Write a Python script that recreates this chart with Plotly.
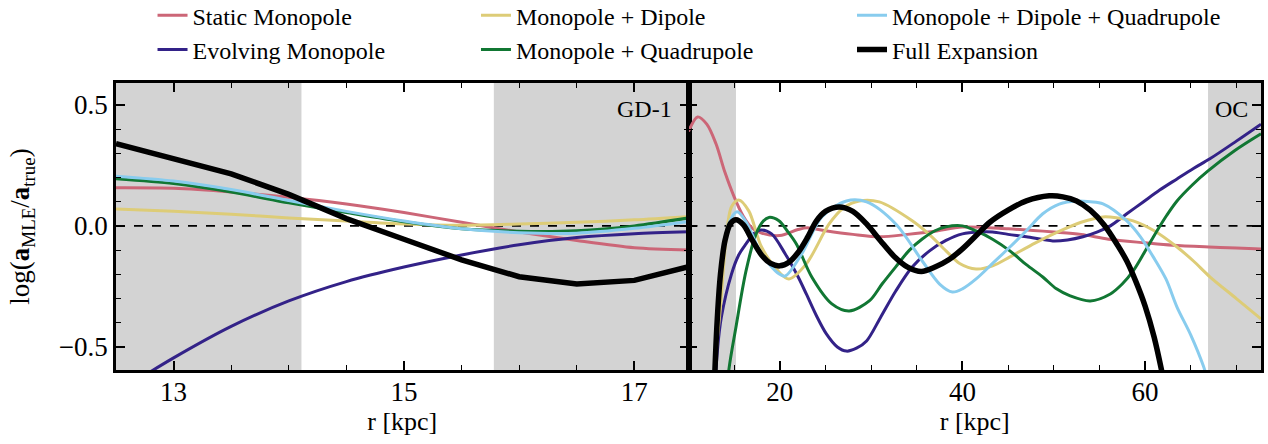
import plotly.graph_objects as go
from plotly.subplots import make_subplots

# ---------------- data: GD-1 panel ----------------
r_gd1 = [12.5, 13.0, 13.5, 14.0, 14.5, 15.0, 15.5, 16.0, 16.5, 17.0, 17.5]
gd1_static = [0.157, 0.155, 0.14, 0.118, 0.09, 0.055, 0.015, -0.025, -0.06, -0.09, -0.10]
gd1_evolving = [-0.69, -0.545, -0.415, -0.31, -0.23, -0.17, -0.12, -0.078, -0.048, -0.032, -0.024]
gd1_mono_dip = [0.07, 0.06, 0.048, 0.033, 0.02, 0.008, 0.003, 0.008, 0.015, 0.025, 0.04]
gd1_mono_quad = [0.195, 0.175, 0.14, 0.095, 0.055, 0.017, -0.012, -0.022, -0.02, 0.0, 0.035]
gd1_mono_dip_quad = [0.205, 0.185, 0.15, 0.105, 0.06, 0.02, -0.012, -0.028, -0.03, -0.01, 0.02]
gd1_full = [0.34, 0.28, 0.215, 0.13, 0.03, -0.055, -0.14, -0.21, -0.24, -0.225, -0.165]
gd1_shaded = [(12.5, 14.11), (15.78, 17.5)]

# ---------------- data: OC panel ----------------
r_oc_static = [10.0, 11.0, 12.0, 13.0, 14.0, 15.0, 16.0, 17.0, 18.0, 20.0, 22.0, 23.0, 25.0, 28.0, 31.0,
               34.0, 37.0, 40.0, 45.0, 50.0, 53.0, 56.0, 60.0, 63.0, 67.0, 70.0, 72.7]
oc_static = [0.39, 0.45, 0.42, 0.34, 0.22, 0.12, 0.04, -0.01, -0.03, -0.04, -0.015, -0.008, -0.02, -0.035,
             -0.045, -0.035, -0.022, -0.005, -0.012, -0.025, -0.035, -0.055, -0.07, -0.08, -0.087, -0.091, -0.095]

r_oc_evolving = [12.6, 13.2, 13.6, 14.7, 15.5, 16.3, 17.2, 17.9, 19.1, 20.6, 22.0, 22.9, 24.0, 25.1, 26.3,
                 27.3, 28.4, 29.5, 31.0, 32.7, 34.5, 36.4, 38.2, 40.0, 41.9, 43.3, 45.0, 47.0, 49.9, 51.5,
                 53.2, 54.8, 56.2, 58.0, 59.8, 61.6, 63.5, 65.3, 67.1, 70.0, 72.7]
oc_evolving = [-0.85, -0.5, -0.376, -0.2, -0.12, -0.074, -0.03, -0.017, -0.033, -0.116, -0.21, -0.281, -0.37,
               -0.446, -0.5, -0.517, -0.505, -0.475, -0.38, -0.269, -0.17, -0.103, -0.06, -0.033, -0.025,
               -0.025, -0.035, -0.045, -0.062, -0.058, -0.045, -0.025, 0.0, 0.05, 0.099, 0.148, 0.194,
               0.237, 0.277, 0.35, 0.42]

r_oc_mono_dip = [12.6, 12.9, 13.5, 14.1, 14.7, 15.5, 16.6, 18.0, 19.9, 21.0, 22.9, 25.4, 27.0, 28.7, 30.9,
                 34.5, 36.5, 38.2, 39.7, 41.5, 43.3, 45.2, 48.0, 50.7, 53.0, 55.4, 57.0, 58.7, 61.0, 63.5,
                 65.3, 67.1, 70.0, 72.7]
oc_mono_dip = [-0.9, -0.58, -0.335, -0.06, 0.078, 0.107, 0.062, -0.087, -0.19, -0.219, -0.157, 0.008, 0.075,
               0.103, 0.099, 0.021, -0.04, -0.103, -0.155, -0.178, -0.165, -0.128, -0.07, -0.021, 0.015,
               0.037, 0.033, 0.021, -0.02, -0.087, -0.145, -0.21, -0.3, -0.384]

r_oc_mono_quad = [13.9, 14.4, 15.2, 16.3, 17.4, 18.2, 18.8, 19.9, 20.8, 21.8, 23.5, 25.7, 27.6, 29.8, 31.2,
                  32.7, 34.2, 35.6, 37.0, 38.2, 40.0, 41.5, 43.3, 45.2, 47.0, 48.8, 50.3, 51.8, 54.0, 56.2,
                  57.5, 58.7, 60.0, 61.3, 62.4, 63.5, 65.2, 66.9, 69.8, 72.7]
oc_mono_quad = [-0.85, -0.6, -0.417, -0.186, -0.033, 0.02, 0.035, 0.021, -0.02, -0.074, -0.211, -0.322,
                -0.351, -0.31, -0.24, -0.169, -0.1, -0.054, -0.02, -0.004, 0.0, -0.021, -0.055, -0.103,
                -0.16, -0.211, -0.26, -0.289, -0.31, -0.281, -0.24, -0.186, -0.105, -0.021, 0.045, 0.103,
                0.17, 0.227, 0.31, 0.38]

r_oc_mono_dip_quad = [12.6, 13.0, 13.6, 14.4, 15.3, 16.3, 18.0, 19.9, 20.6, 22.4, 24.6, 27.3, 29.5, 32.7,
                      35.6, 37.5, 38.9, 40.0, 41.5, 43.3, 45.2, 47.0, 48.8, 50.6, 52.5, 54.0, 55.4, 58.0,
                      59.5, 60.9, 62.3, 63.5, 65.0, 66.4, 67.2]
oc_mono_dip_quad = [-0.85, -0.446, -0.145, 0.008, 0.058, 0.017, -0.116, -0.198, -0.207, -0.116, 0.037,
                    0.103, 0.099, 0.008, -0.145, -0.24, -0.273, -0.26, -0.219, -0.155, -0.087, -0.02, 0.05,
                    0.09, 0.103, 0.1, 0.091, 0.021, -0.045, -0.128, -0.22, -0.335, -0.45, -0.58, -0.68]

r_oc_full = [12.6, 13.1, 13.5, 14.0, 14.6, 15.2, 16.0, 17.0, 18.0, 19.0, 20.0, 21.0, 22.0, 23.0, 24.0, 25.0,
             26.5, 28.0, 29.5, 31.0, 32.5, 34.0, 35.5, 37.0, 38.5, 40.0, 41.5, 43.0, 45.0, 47.0, 49.5, 51.0,
             52.5, 54.0, 55.5, 57.0, 58.0, 59.0, 60.0, 61.0, 62.0]
oc_full = [-0.9, -0.42, -0.2, -0.06, 0.01, 0.025, 0.005, -0.06, -0.12, -0.155, -0.165, -0.15, -0.11, -0.05,
           0.02, 0.06, 0.078, 0.06, 0.008, -0.06, -0.125, -0.17, -0.188, -0.17, -0.14, -0.095, -0.04, 0.015,
           0.065, 0.103, 0.124, 0.12, 0.103, 0.065, 0.005, -0.08, -0.145, -0.23, -0.33, -0.46, -0.63]
oc_shaded = [(10.0, 15.2), (66.9, 72.7)]

names = ["Static Monopole", "Evolving Monopole", "Monopole + Dipole", "Monopole + Quadrupole",
         "Monopole + Dipole + Quadrupole", "Full Expansion"]
colors = ["#CC6677", "#332288", "#DDCC77", "#117733", "#88CCEE", "#000000"]
widths = [3, 3, 3, 3, 3, 5.5]
legend_ids = ["legend", "legend", "legend2", "legend2", "legend3", "legend3"]

gd1_series = [gd1_static, gd1_evolving, gd1_mono_dip, gd1_mono_quad, gd1_mono_dip_quad, gd1_full]
oc_series = [(r_oc_static, oc_static), (r_oc_evolving, oc_evolving), (r_oc_mono_dip, oc_mono_dip),
             (r_oc_mono_quad, oc_mono_quad), (r_oc_mono_dip_quad, oc_mono_dip_quad), (r_oc_full, oc_full)]

FONT = "Liberation Serif"

fig = make_subplots(rows=1, cols=2, shared_yaxes=True, horizontal_spacing=0)

for i in range(6):
    fig.add_trace(go.Scatter(
        x=r_gd1, y=gd1_series[i], mode="lines", name=names[i],
        line=dict(color=colors[i], width=widths[i], shape="linear" if i == 5 else "spline", smoothing=0.8),
        legend=legend_ids[i], showlegend=True), row=1, col=1)
for i in range(6):
    fig.add_trace(go.Scatter(
        x=oc_series[i][0], y=oc_series[i][1], mode="lines", name=names[i],
        line=dict(color=colors[i], width=widths[i], shape="spline", smoothing=0.9),
        legend=legend_ids[i], showlegend=False), row=1, col=2)

shapes = []
for (a, b) in gd1_shaded:
    shapes.append(dict(type="rect", xref="x", yref="y domain", x0=a, x1=b, y0=0, y1=1,
                       fillcolor="#D3D3D3", line=dict(width=0), layer="below"))
for (a, b) in oc_shaded:
    shapes.append(dict(type="rect", xref="x2", yref="y domain", x0=a, x1=b, y0=0, y1=1,
                       fillcolor="#D3D3D3", line=dict(width=0), layer="below"))
for xr in ["x domain", "x2 domain"]:
    shapes.append(dict(type="line", xref=xr, yref="y", x0=0, x1=1, y0=0, y1=0,
                       line=dict(color="black", width=1.6, dash="dash"), layer="below"))

axis_style = dict(showline=True, linewidth=2.5, linecolor="black", mirror="allticks",
                  ticks="inside", ticklen=9, tickwidth=1.8, tickcolor="black",
                  showgrid=False, zeroline=False, tickfont=dict(size=27))

fig.update_xaxes(range=[12.5, 17.47], tick0=13, dtick=2, ticklabelstandoff=-4,
                 minor=dict(dtick=0.5, ticks="inside", ticklen=5, tickwidth=1.3, tickcolor="black", showgrid=False),
                 title=dict(text="r [kpc]", standoff=0, font=dict(size=26)), **axis_style, row=1, col=1)
fig.update_xaxes(range=[10.0, 72.7], tick0=20, dtick=20, ticklabelstandoff=-4,
                 minor=dict(dtick=5, ticks="inside", ticklen=5, tickwidth=1.3, tickcolor="black", showgrid=False),
                 title=dict(text="r [kpc]", standoff=0, font=dict(size=26)), **axis_style, row=1, col=2)
fig.update_yaxes(range=[-0.595, 0.59], tick0=0, dtick=0.5, tickformat=".1f",
                 minor=dict(dtick=0.1, ticks="inside", ticklen=5, tickwidth=1.3, tickcolor="black", showgrid=False),
                 **axis_style)
fig.update_yaxes(title=dict(text="log(<b>a</b><sub>MLE</sub>/<b>a</b><sub>true</sub>)", standoff=22,
                            font=dict(size=27)),
                 row=1, col=1)

leg_common = dict(yanchor="top", y=1.313, xanchor="left",
                  font=dict(size=24, family=FONT),
                  bgcolor="rgba(0,0,0,0)", borderwidth=0, orientation="v")
fig.update_layout(
    width=1268, height=444,
    margin=dict(l=116, r=7, t=83, b=74, autoexpand=False),
    plot_bgcolor="white", paper_bgcolor="white",
    font=dict(family=FONT, size=27, color="black"),
    shapes=shapes,
    legend=dict(x=0.0319, **leg_common),
    legend2=dict(x=0.3144, **leg_common),
    legend3=dict(x=0.6428, **leg_common),
    annotations=[
        dict(text="GD-1", xref="x domain", yref="y domain", x=0.975, y=0.909, xanchor="right",
             yanchor="middle", showarrow=False, font=dict(size=24, family=FONT)),
        dict(text="OC", xref="x2 domain", yref="y domain", x=0.981, y=0.909, xanchor="right",
             yanchor="middle", showarrow=False, font=dict(size=24, family=FONT)),
    ],
)

fig.write_html("out.html", config={"displayModeBar": False},
               post_script="document.body.style.margin='0';document.body.style.overflow='hidden';")
